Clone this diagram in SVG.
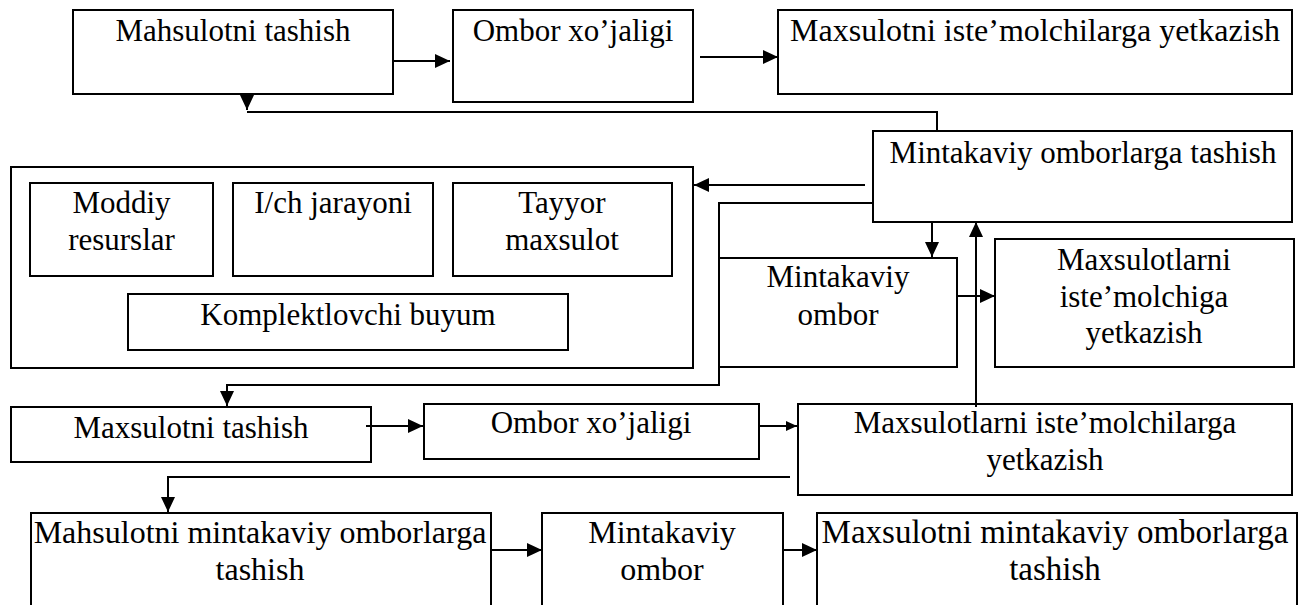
<svg xmlns="http://www.w3.org/2000/svg" width="1301" height="605" viewBox="0 0 1301 605">
<style>
.b{fill:#fff;stroke:#000;stroke-width:2}
.c{fill:none;stroke:#000;stroke-width:2}
text{font-family:"Liberation Serif","Times New Roman",serif;font-size:31px;fill:#000;text-anchor:middle}
.l{font-size:32px}
.xl{font-size:33px}
</style>
<defs>
<marker id="arr" viewBox="0 0 15 14" refX="15" refY="7" markerWidth="15" markerHeight="14" markerUnits="userSpaceOnUse" orient="auto">
<path d="M0,0 L15,7 L0,14 Z" fill="#000"/>
</marker>
<marker id="arrs" viewBox="0 0 11 10" refX="11" refY="5" markerWidth="11" markerHeight="10" markerUnits="userSpaceOnUse" orient="auto">
<path d="M0,0 L11,5 L0,10 Z" fill="#000"/>
</marker>
</defs>
<rect width="1301" height="605" fill="#fff"/>
<g id="n1"><rect class="b" x="73" y="10" width="320" height="84"/><text x="233" y="41">Mahsulotni tashish</text></g>
<g id="n2"><rect class="b" x="453" y="10" width="240" height="92"/><text x="573" y="41">Ombor xo’jaligi</text></g>
<g id="n3"><rect class="b" x="778" y="10" width="514" height="84"/><text class="l" x="1035" y="41">Maxsulotni iste’molchilarga yetkazish</text></g>
<g id="n4"><rect class="b" x="873" y="131" width="419" height="91"/><text x="1083" y="163">Mintakaviy omborlarga tashish</text></g>
<g id="n5">
<rect class="b" x="11" y="167" width="682" height="201"/>
<rect class="b" x="30" y="183" width="183" height="93"/><text x="121.5" y="213">Moddiy</text><text x="121.5" y="250">resurslar</text>
<rect class="b" x="233" y="183" width="200" height="93"/><text x="333" y="213">I/ch jarayoni</text>
<rect class="b" x="453" y="183" width="219" height="93"/><text x="562" y="213">Tayyor</text><text x="562" y="250">maxsulot</text>
<rect class="b" x="128" y="294" width="440" height="56"/><text x="348" y="325">Komplektlovchi buyum</text>
</g>
<g id="n6"><rect class="b" x="719" y="258" width="238" height="109"/><text x="838" y="287">Mintakaviy</text><text x="838" y="325">ombor</text></g>
<g id="n7"><rect class="b" x="995" y="239" width="299" height="128"/><text x="1144" y="270">Maxsulotlarni</text><text x="1144" y="307">iste’molchiga</text><text x="1144" y="343">yetkazish</text></g>
<g id="n8"><rect class="b" x="11" y="407" width="360" height="55"/><text x="191" y="438">Maxsulotni tashish</text></g>
<g id="n9"><rect class="b" x="424" y="404" width="335" height="55"/><text x="591" y="433">Ombor xo’jaligi</text></g>
<g id="n10"><rect class="b" x="798" y="404" width="494" height="91"/><text x="1045" y="433">Maxsulotlarni iste’molchilarga</text><text x="1045" y="470">yetkazish</text></g>
<g id="n11"><rect class="b" x="31" y="513" width="460" height="100"/><text class="l" x="260" y="543">Maһsulotni mintakaviy omborlarga</text><text class="l" x="260" y="580">tashish</text></g>
<g id="n12"><rect class="b" x="542" y="513" width="241" height="100"/><text class="l" x="662" y="543">Mintakaviy</text><text class="l" x="662" y="580">ombor</text></g>
<g id="n13"><rect class="b" x="817" y="513" width="480" height="100"/><text class="xl" x="1055" y="543">Maxsulotni mintakaviy omborlarga</text><text class="xl" x="1055" y="580">tashish</text></g>
<g id="connectors">
<path class="c" d="M393,61 H450" marker-end="url(#arr)"/>
<path class="c" d="M700,57 H778" marker-end="url(#arr)"/>
<path class="c" d="M937,131 V112 H247 M247,96 V110" marker-end="url(#arr)"/>
<path class="c" d="M865,185 H694" marker-end="url(#arr)"/>
<path class="c" d="M872,203 H719 V385 H227 V406" marker-end="url(#arr)"/>
<path class="c" d="M932,222 V257" marker-end="url(#arr)"/>
<path class="c" d="M957,296 H995" marker-end="url(#arr)"/>
<path class="c" d="M976,407 V222" marker-end="url(#arr)"/>
<path class="c" d="M366,426 H423" marker-end="url(#arr)"/>
<path class="c" d="M759,426 H797" marker-end="url(#arrs)"/>
<path class="c" d="M790,477 H168 V512" marker-end="url(#arr)"/>
<path class="c" d="M491,550 H542" marker-end="url(#arr)"/>
<path class="c" d="M783,550 H817" marker-end="url(#arr)"/>
</g>
</svg>
